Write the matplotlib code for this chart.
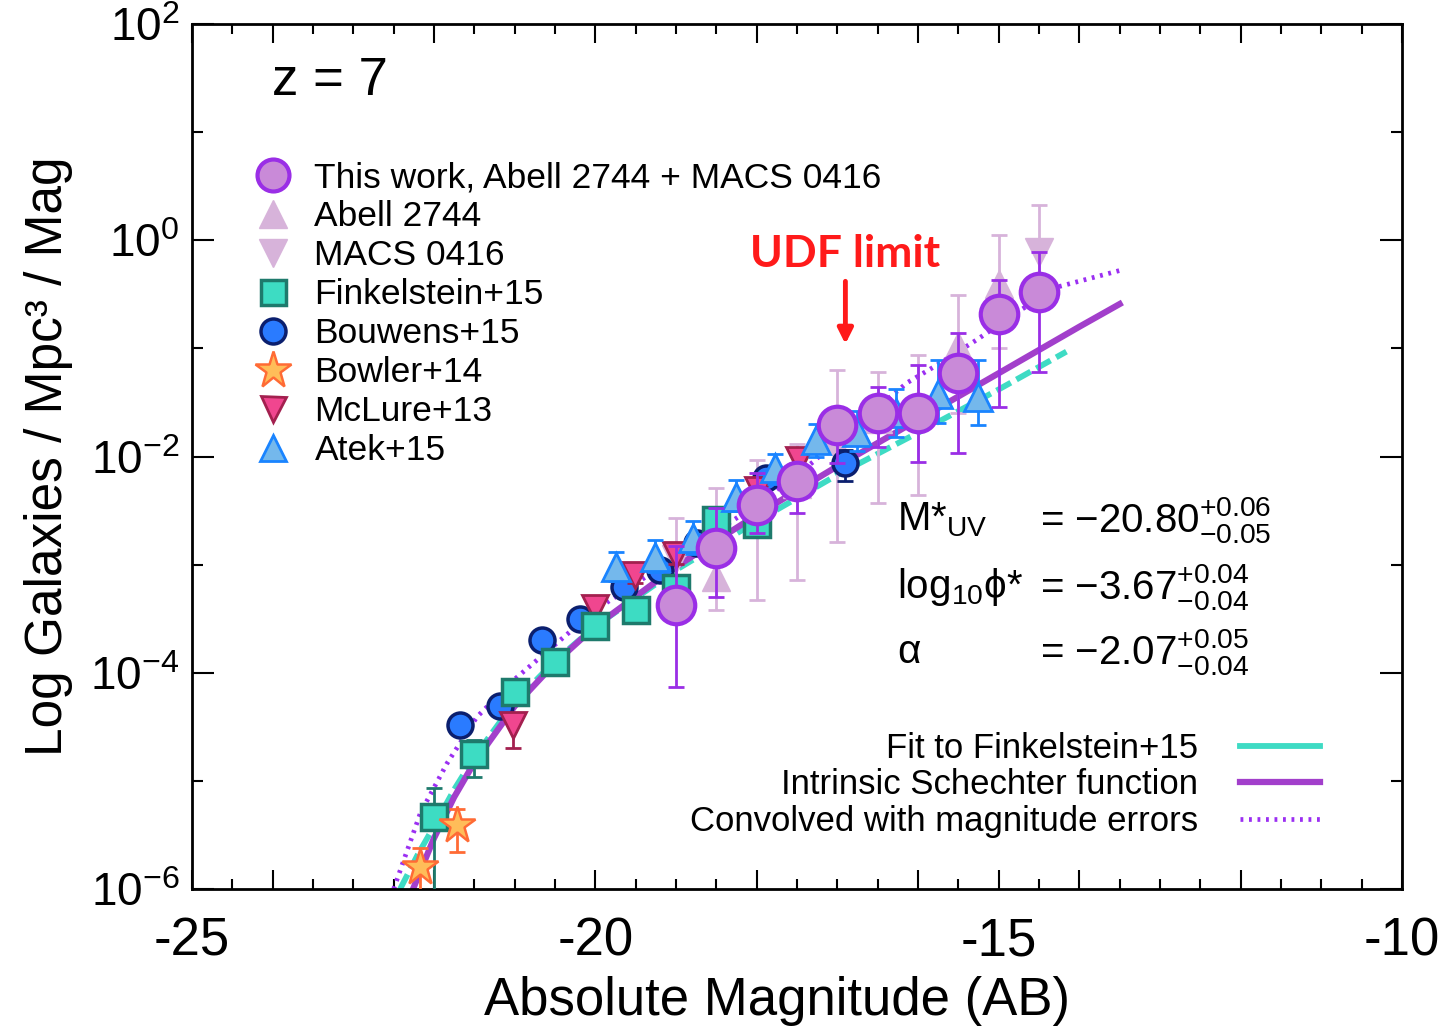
import matplotlib
matplotlib.use("Agg")
import matplotlib.pyplot as plt
from matplotlib.lines import Line2D
import numpy as np

plt.rcParams["font.family"] = ["Liberation Sans", "DejaVu Sans"]
plt.rcParams["mathtext.fontset"] = "custom"
plt.rcParams["mathtext.rm"] = "Liberation Sans"
plt.rcParams["mathtext.it"] = "Liberation Sans:italic"
plt.rcParams["mathtext.bf"] = "Liberation Sans:bold"

# ---- data (log10 phi) ----
this_mag = [-19.0, -18.5, -18.0, -17.5, -17.0, -16.5, -16.0, -15.5, -15.0, -14.5]
this_logphi = [-3.37, -2.85, -2.45, -2.23, -1.71, -1.60, -1.60, -1.23, -0.68, -0.48]
this_hi = [-2.83, -2.48, -2.15, -2.06, -1.55, -1.36, -1.15, -0.86, -0.37, -0.11]
this_lo = [-4.13, -3.30, -2.71, -2.52, -2.06, -1.91, -2.05, -1.97, -1.54, -1.22]

abell_mag = [-18.5, -17.5, -16.5, -15.5, -15.0]
abell_logphi = [-3.11, -2.25, -1.65, -0.98, -0.40]
abell_hi = [-2.29, -1.88, -1.22, -0.51, 0.05]
abell_lo = [-3.42, -3.14, -2.43, -1.60, -1.00]

macs_mag = [-19.0, -18.0, -17.0, -16.0, -14.5]
macs_logphi = [-2.95, -2.55, -1.94, -1.65, -0.11]
macs_hi = [-2.57, -2.03, -1.20, -1.06, 0.33]
macs_lo = [-3.50, -3.33, -2.79, -2.36, -0.60]

fink_mag = [-22.0, -21.5, -21.0, -20.5, -20.0, -19.5, -19.0, -18.5, -18.0]
fink_logphi = [-5.33, -4.75, -4.18, -3.90, -3.57, -3.42, -3.22, -2.59, -2.62]
fink_hi = [-5.07, -4.62, -4.08, -3.82, -3.50, -3.35, -3.15, -2.50, -2.52]
fink_lo = [-7.00, -4.96, -4.28, -3.98, -3.64, -3.50, -3.30, -2.68, -2.72]

bouw_mag = [-21.68, -21.18, -20.66, -20.19, -19.65, -19.2, -18.74, -17.88, -16.9]
bouw_logphi = [-4.48, -4.31, -3.70, -3.50, -3.21, -3.05, -2.80, -2.20, -2.06]
bouw_hi = [-4.40, -4.22, -3.63, -3.44, -3.15, -2.99, -2.74, -2.14, -1.94]
bouw_lo = [-4.57, -4.40, -3.78, -3.57, -3.27, -3.11, -2.86, -2.26, -2.23]

bowl_mag = [-22.17, -21.72]
bowl_logphi = [-5.80, -5.41]
bowl_hi = [-5.62, -5.26]
bowl_lo = [-6.10, -5.66]

mclu_mag = [-21.02, -20.0, -19.51, -19.0, -17.98, -17.48]
mclu_logphi = [-4.48, -3.40, -3.10, -2.91, -2.31, -2.03]
mclu_hi = [-4.38, -3.34, -3.04, -2.84, -2.22, -1.93]
mclu_lo = [-4.70, -3.47, -3.17, -2.99, -2.41, -2.14]

atek_mag = [-19.74, -19.26, -18.79, -18.25, -17.77, -17.26, -16.76, -16.27, -15.75, -15.25]
atek_logphi = [-3.02, -2.93, -2.75, -2.37, -2.11, -1.85, -1.77, -1.60, -1.42, -1.45]
atek_hi = [-2.88, -2.77, -2.60, -2.22, -1.98, -1.70, -1.58, -1.38, -1.11, -1.11]
atek_lo = [-3.15, -3.07, -2.90, -2.50, -2.25, -2.00, -1.95, -1.82, -1.69, -1.71]

# curves
intr_mag = [-22.26, -22.0, -21.75, -21.5, -21.0, -20.5, -20.0, -19.0, -18.0, -17.0, -16.0, -15.0, -14.0, -13.5]
intr_logphi = [-6.0, -5.53, -5.15, -4.83, -4.31, -3.91, -3.57, -3.02, -2.54, -2.09, -1.66, -1.23, -0.80, -0.59]

ffit_mag = [-22.42, -22.2, -22.0, -21.75, -21.5, -21.0, -20.5, -20.0, -19.0, -18.0, -17.0, -16.0, -15.0, -14.16]
ffit_logphi = [-6.0, -5.68, -5.42, -5.08, -4.78, -4.27, -3.89, -3.57, -3.05, -2.60, -2.17, -1.78, -1.38, -1.03]

conv_mag = [-22.5, -22.17, -21.84, -21.47, -21.0, -20.5, -20.0, -19.0, -18.0, -17.3, -17.0,
            -16.5, -16.14, -15.8, -15.27, -14.76, -14.26, -13.5]
conv_logphi = [-6.0, -5.30, -4.84, -4.41, -4.06, -3.74, -3.42, -2.93, -2.45, -2.05, -1.85,
               -1.55, -1.32, -1.17, -0.92, -0.66, -0.43, -0.28]

xtick_pos = [-25, -24, -22, -20, -18, -16, -15, -14, -12, -10]
xtick_lab = ["-25", "", "", "-20", "", "", "-15", "", "", "-10"]
ytick_pos = [1e-6, 1e-4, 1e-2, 1e0, 1e2]
ytick_lab = [r"$10^{-6}$", r"$10^{-4}$", r"$10^{-2}$", r"$10^{0}$", r"$10^{2}$"]

fit_rows = [
    (r"M*$_{\rm UV}$", r"= $-20.80^{+0.06}_{-0.05}$"),
    (r"log$_{10}$ϕ*", r"= $-3.67^{+0.04}_{-0.04}$"),
    ("α", r"= $-2.07^{+0.05}_{-0.04}$"),
]


def draw_points(ax, mag, logphi, hi, lo, ecolor, z, **kw):
    phi = 10.0 ** np.array(logphi)
    yerr = [phi - 10.0 ** np.array(lo), 10.0 ** np.array(hi) - phi]
    ax.errorbar(mag, phi, yerr=yerr, fmt="none", ecolor=ecolor, elinewidth=2,
                capsize=5.5, capthick=2, zorder=z)
    ax.plot(mag, phi, ls="none", zorder=z + 0.1, **kw)


fig = plt.figure(figsize=(14.52, 10.35), dpi=100)
ax = fig.add_axes([0.13223, 0.14106, 0.83333, 0.83575])
ax.set_yscale("log")
ax.set_xlim(-25, -10)
ax.set_ylim(1e-6, 1e2)

# fit curves
ax.plot(ffit_mag, 10.0 ** np.array(ffit_logphi), color="#3edbc4", lw=4.2,
        dashes=(2.8, 1.1), zorder=2)
ax.plot(intr_mag, 10.0 ** np.array(intr_logphi), color="#a23fcb", lw=4.5, zorder=2.2)
ax.plot(conv_mag, 10.0 ** np.array(conv_logphi), color="#9b2ff2", lw=3.4,
        dashes=(0.6, 1.2), zorder=2.1)

light = "#d7b3da"
draw_points(ax, fink_mag, fink_logphi, fink_hi, fink_lo, "#1e7a6c", 4,
            marker="s", ms=19, mfc="#3ddcc3", mec="#1e7a6c", mew=2.5)
draw_points(ax, mclu_mag, mclu_logphi, mclu_hi, mclu_lo, "#a3204f", 3.6,
            marker="v", ms=19, mfc="#f0468f", mec="#a3204f", mew=2)
draw_points(ax, bouw_mag, bouw_logphi, bouw_hi, bouw_lo, "#0b1f6e", 3.4,
            marker="o", ms=18, mfc="#2a7bff", mec="#0b1f6e", mew=2.5)
draw_points(ax, atek_mag, atek_logphi, atek_hi, atek_lo, "#1a84ff", 4.5,
            marker="^", ms=20, mfc="#74b8ec", mec="#1a84ff", mew=2)
draw_points(ax, bowl_mag, bowl_logphi, bowl_hi, bowl_lo, "#ff6b35", 5,
            marker="*", ms=28, mfc="#ffbd59", mec="#ff6b35", mew=1.8)
draw_points(ax, abell_mag, abell_logphi, abell_hi, abell_lo, light, 3,
            marker="^", ms=20, mfc=light, mec=light, mew=1)
draw_points(ax, macs_mag, macs_logphi, macs_hi, macs_lo, light, 3,
            marker="v", ms=20, mfc=light, mec=light, mew=1)
draw_points(ax, this_mag, this_logphi, this_hi, this_lo, "#9a2ee6", 6,
            marker="o", ms=27, mfc="#c98ad8", mec="#9a2ee6", mew=3)

# axes styling
for s in ax.spines.values():
    s.set_linewidth(2)
ax.set_xticks(xtick_pos)
ax.set_xticklabels(xtick_lab)
ax.set_xticks(np.arange(-25, -9.9, 0.5), minor=True)
ax.set_yticks(ytick_pos)
ax.set_yticklabels(ytick_lab)
ax.set_yticks([1e-5, 1e-3, 1e-1, 1e1], minor=True)
ax.yaxis.set_minor_formatter(matplotlib.ticker.NullFormatter())
ax.tick_params(which="both", direction="in", top=True, right=True, width=1.5)
ax.tick_params(axis="x", which="major", length=14, labelsize=38, pad=20)
ax.tick_params(axis="x", which="minor", length=7)
ax.tick_params(axis="y", which="major", length=16, labelsize=33, pad=9)
ax.tick_params(axis="y", which="minor", length=8)

ax.set_xlabel("Absolute Magnitude (AB)", fontsize=38)
ax.xaxis.set_label_coords(0.4835, -0.100)
ax.set_ylabel("Log Galaxies / Mpc³ / Mag", fontsize=37)
ax.yaxis.set_label_coords(-0.098, 0.5)

# annotations
ax.text(0.066, 0.934, "z = 7", transform=ax.transAxes, fontsize=38,
        ha="left", va="center")
ax.text(-16.9, 10 ** -0.128, "UDF limit", color="#ff1a1a", fontsize=32,
        fontweight="bold", family=["Lato", "DejaVu Sans"], ha="center", va="center")
ax.annotate("", xy=(-16.9, 10 ** -0.96), xytext=(-16.9, 10 ** -0.38),
            arrowprops=dict(arrowstyle="-|>,head_length=0.9,head_width=0.45",
                            color="#ff1a1a", lw=3.5, shrinkA=0, shrinkB=0))

row_y = [0.4266, 0.349, 0.274]
for (lab, val), yy in zip(fit_rows, row_y):
    ax.text(0.5826, yy, lab, transform=ax.transAxes, fontsize=29,
            ha="left", va="center")
    ax.text(0.7008, yy, val, transform=ax.transAxes, fontsize=29,
            ha="left", va="center")

# legends
pt_handles = [
    Line2D([], [], ls="none", marker="o", ms=23, mfc="#c98ad8", mec="#9a2ee6", mew=3),
    Line2D([], [], ls="none", marker="^", ms=20, mfc=light, mec=light),
    Line2D([], [], ls="none", marker="v", ms=20, mfc=light, mec=light),
    Line2D([], [], ls="none", marker="s", ms=18, mfc="#3ddcc3", mec="#1e7a6c", mew=2.5),
    Line2D([], [], ls="none", marker="o", ms=18, mfc="#2a7bff", mec="#0b1f6e", mew=2.5),
    Line2D([], [], ls="none", marker="*", ms=28, mfc="#ffbd59", mec="#ff6b35", mew=1.8),
    Line2D([], [], ls="none", marker="v", ms=18, mfc="#f0468f", mec="#a3204f", mew=2),
    Line2D([], [], ls="none", marker="^", ms=19, mfc="#74b8ec", mec="#1a84ff", mew=2),
]
pt_labels = ["This work, Abell 2744 + MACS 0416", "Abell 2744", "MACS 0416",
             "Finkelstein+15", "Bouwens+15", "Bowler+14", "McLure+13", "Atek+15"]
leg1 = ax.legend(pt_handles, pt_labels, loc="upper left", bbox_to_anchor=(0.0529, 0.8414),
                 frameon=False, fontsize=25.5, handlelength=0.95, handletextpad=0.7,
                 labelspacing=0.17, borderpad=0, borderaxespad=0)
ax.add_artist(leg1)

ln_handles = [
    Line2D([], [], color="#3edbc4", lw=4.2),
    Line2D([], [], color="#a23fcb", lw=4.5),
    Line2D([], [], color="#9b2ff2", lw=3.4, dashes=(0.6, 1.2)),
]
ln_labels = ["Fit to Finkelstein+15", "Intrinsic Schechter function",
             "Convolved with magnitude errors"]
ax.legend(ln_handles, ln_labels, loc="lower right", bbox_to_anchor=(0.932, 0.059),
          frameon=False, fontsize=25, markerfirst=False, handlelength=2.3,
          handletextpad=1.2, labelspacing=0.1, borderpad=0, borderaxespad=0)

fig.savefig("out.png", dpi=100)
